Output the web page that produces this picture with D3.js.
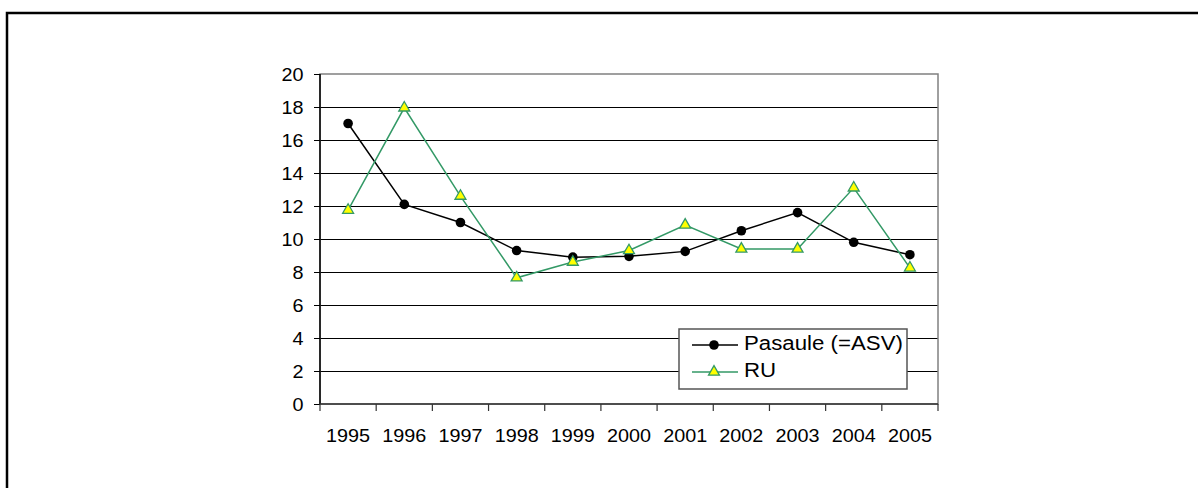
<!DOCTYPE html>
<html>
<head>
<meta charset="utf-8">
<script src="https://cdn.jsdelivr.net/npm/d3@7"></script>
<style>
  html, body { margin: 0; padding: 0; background: #fff; }
  svg { display: block; }
  text { font-family: "Liberation Sans", Arial, sans-serif; fill: #000; }
</style>
</head>
<body>
<svg id="chart" width="1198" height="488"></svg>
<script>
const years = ["1995","1996","1997","1998","1999","2000","2001","2002","2003","2004","2005"];
const pasaule = [17.0, 12.1, 11.0, 9.3, 8.9, 8.95, 9.25, 10.5, 11.6, 9.8, 9.05];
const ru = [11.75, 17.95, 12.6, 7.65, 8.6, 9.3, 10.85, 9.4, 9.4, 13.1, 8.25];
const yTicks = [0, 2, 4, 6, 8, 10, 12, 14, 16, 18, 20];
const seriesNames = ["Pasaule (=ASV)", "RU"];

const svg = d3.select("#chart");
const SX = 1.1;

// outer frame (cut off at right & bottom)
svg.append("rect").attr("x", 7).attr("y", 13).attr("width", 1220).attr("height", 500)
  .attr("fill", "none").attr("stroke", "#000").attr("stroke-width", 2.5);

const x = d3.scaleBand().domain(years).range([320, 938]).padding(0);
const y = d3.scaleLinear().domain([0, 20]).range([404, 74]);
const cx = d => x(d) + x.bandwidth() / 2;

// gridlines
svg.append("g").selectAll("line").data(yTicks.filter(t => t > 0 && t < 20)).join("line")
  .attr("x1", 320).attr("x2", 938).attr("y1", d => y(d)).attr("y2", d => y(d))
  .attr("stroke", "#000").attr("stroke-width", 1).attr("shape-rendering", "crispEdges");

// plot area border (gray)
svg.append("rect").attr("x", 320).attr("y", y(20)).attr("width", 618).attr("height", y(0) - y(20))
  .attr("fill", "none").attr("stroke", "#808080").attr("stroke-width", 1.5);

// y axis
svg.append("line").attr("x1", 320).attr("x2", 320).attr("y1", y(20)).attr("y2", y(0))
  .attr("stroke", "#000").attr("stroke-width", 1.5);
svg.append("g").selectAll("line").data(yTicks).join("line")
  .attr("x1", 314).attr("x2", 320).attr("y1", d => y(d)).attr("y2", d => y(d))
  .attr("stroke", "#000").attr("stroke-width", 1).attr("shape-rendering", "crispEdges");
svg.append("g").selectAll("text").data(yTicks).join("text")
  .attr("text-anchor", "end").attr("font-size", 18)
  .attr("transform", d => `translate(303.5,${y(d) + 6.5}) scale(${SX},1)`)
  .text(d => d);

// x axis
svg.append("line").attr("x1", 320).attr("x2", 938).attr("y1", y(0)).attr("y2", y(0))
  .attr("stroke", "#333").attr("stroke-width", 1.5);
const boundaries = years.map(d => x(d)).concat([x.range()[1]]);
svg.append("g").selectAll("line").data(boundaries).join("line")
  .attr("x1", d => d).attr("x2", d => d).attr("y1", y(0)).attr("y2", y(0) + 7)
  .attr("stroke", "#333").attr("stroke-width", 1.2);
svg.append("g").selectAll("text").data(years).join("text")
  .attr("text-anchor", "middle").attr("font-size", 18)
  .attr("transform", d => `translate(${cx(d)},442) scale(${SX},1)`)
  .text(d => d);

// lines
const line = d3.line().x((d, i) => cx(years[i])).y(d => y(d));
svg.append("path").datum(pasaule).attr("d", line)
  .attr("fill", "none").attr("stroke", "#000").attr("stroke-width", 1.5);
svg.append("path").datum(ru).attr("d", line)
  .attr("fill", "none").attr("stroke", "#339966").attr("stroke-width", 1.5);

const tri = d3.symbol().type(d3.symbolTriangle).size(52);
svg.append("g").selectAll("circle").data(pasaule).join("circle")
  .attr("cx", (d, i) => cx(years[i])).attr("cy", d => y(d)).attr("r", 4.8)
  .attr("fill", "#000");
svg.append("g").selectAll("path").data(ru).join("path")
  .attr("d", tri).attr("transform", (d, i) => `translate(${cx(years[i])},${y(d)})`)
  .attr("fill", "#ffff00").attr("stroke", "#339966").attr("stroke-width", 1.3);

// legend
const lg = svg.append("g");
lg.append("rect").attr("x", 679).attr("y", 329).attr("width", 228).attr("height", 60)
  .attr("fill", "#fff").attr("stroke", "#555").attr("stroke-width", 1.5);
const rows = [345, 372];
lg.append("line").attr("x1", 692).attr("x2", 738).attr("y1", rows[0]).attr("y2", rows[0])
  .attr("stroke", "#000").attr("stroke-width", 1.5);
lg.append("circle").attr("cx", 714).attr("cy", rows[0]).attr("r", 4.8).attr("fill", "#000");
lg.append("line").attr("x1", 692).attr("x2", 738).attr("y1", rows[1]).attr("y2", rows[1])
  .attr("stroke", "#339966").attr("stroke-width", 1.5);
lg.append("path").attr("d", tri).attr("transform", `translate(714,${rows[1]})`)
  .attr("fill", "#ffff00").attr("stroke", "#339966").attr("stroke-width", 1.3);
lg.selectAll("text.lab").data(seriesNames).join("text").attr("class", "lab")
  .attr("font-size", 21)
  .attr("transform", (d, i) => `translate(744,${rows[i] + 4.5 + i * 0.5}) scale(1.06,1)`)
  .text(d => d);
</script>
</body>
</html>
